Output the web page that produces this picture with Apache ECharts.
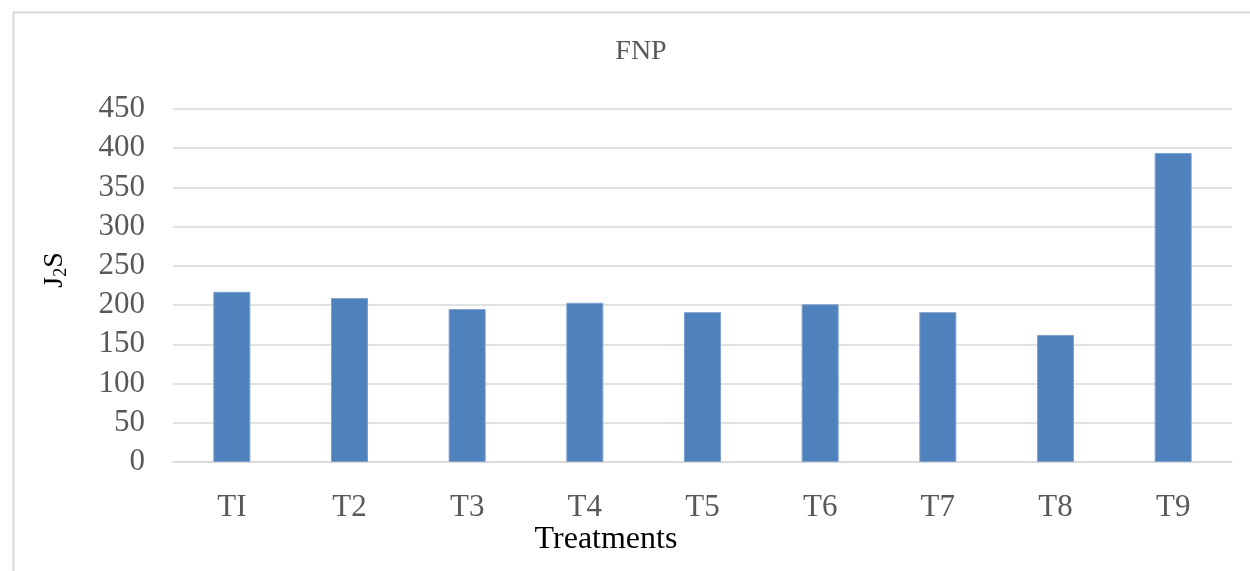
<!DOCTYPE html>
<html>
<head>
<meta charset="utf-8">
<script src="https://cdn.jsdelivr.net/npm/echarts@6/dist/echarts.min.js"></script>
<style>
html,body{margin:0;padding:0;background:#fff;}
#chart{width:1250px;height:571px;}
</style>
</head>
<body>
<div id="chart"></div>
<script>
var categories = ['TI','T2','T3','T4','T5','T6','T7','T8','T9'];
var values = [217, 209, 195, 203, 191, 201, 191, 162, 394];
var yTicks = {min: 0, max: 450, interval: 50};
var titleText = 'FNP';
var xName = 'Treatments';

var chart = echarts.init(document.getElementById('chart'));
var serif = '"Liberation Serif", "Times New Roman", serif';
chart.setOption({
  animation: false,
  backgroundColor: '#fff',
  title: {
    text: titleText,
    left: 636, top: 33, textAlign: 'center',
    textStyle: {fontFamily: serif, fontSize: 28, fontWeight: 'normal', color: '#595959'}
  },
  grid: {left: 173, right: 18, top: 109, bottom: 109},
  xAxis: {
    type: 'category',
    data: categories,
    axisLine: {lineStyle: {color: '#D9D9D9', width: 1.5}},
    axisTick: {show: false},
    axisLabel: {fontFamily: serif, fontSize: 31, color: '#595959', margin: 30}
  },
  yAxis: {
    type: 'value',
    min: yTicks.min, max: yTicks.max, interval: yTicks.interval,
    axisLine: {show: false},
    axisTick: {show: false},
    splitLine: {lineStyle: {color: '#D9D9D9', width: 1.5}},
    axisLabel: {fontFamily: serif, fontSize: 31, color: '#595959', margin: 28}
  },
  series: [{
    type: 'bar',
    data: values,
    barWidth: 37,
    itemStyle: {color: '#4F81BD', borderColor: '#7DA0CE', borderWidth: 1}
  }],
  graphic: [
    {type: 'rect', left: 11, top: 10, shape: {width: 1260, height: 600}, style: {fill: 'none', stroke: '#D9D9D9', lineWidth: 2}, z: -1},
    {type: 'text', x: 606, y: 540, style: {text: xName, fontFamily: serif, fontSize: 32, fill: '#000', textAlign: 'center', textVerticalAlign: 'middle'}},
    {type: 'text', x: 55, y: 270, rotation: Math.PI/2,
     style: {text: '{a|J}{b|2}{a|S}', textAlign: 'center', textVerticalAlign: 'middle',
       rich: {a: {fontFamily: serif, fontSize: 28, fill: '#000', color: '#000'},
              b: {fontFamily: serif, fontSize: 18, fill: '#000', color: '#000', padding: [12, 0, 0, 0]}}}}
  ]
});
</script>
</body>
</html>
